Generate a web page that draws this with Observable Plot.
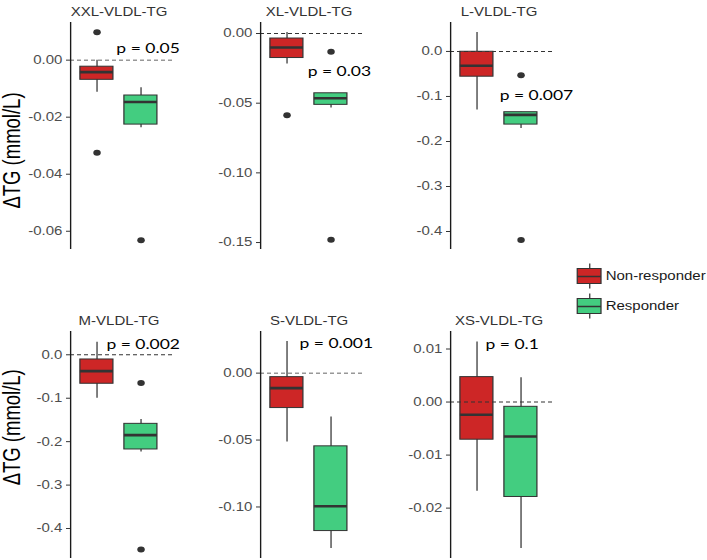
<!DOCTYPE html>
<html><head><meta charset="utf-8">
<script src="https://cdn.jsdelivr.net/npm/d3@7"></script>
<script src="https://cdn.jsdelivr.net/npm/@observablehq/plot@0.6"></script>
<style>
html,body{margin:0;padding:0;background:#fff;}
#chart{position:relative;width:565.6px;height:560px;transform:scaleX(1.25);transform-origin:0 0;font-family:"Liberation Sans",Arial,sans-serif;}
#chart > div{position:absolute;}
#chart svg{background:transparent !important;overflow:visible;max-width:none !important;}
</style></head>
<body><div id="chart"></div>
<script>
const panelTitles = ["XXL-VLDL-TG","XL-VLDL-TG","L-VLDL-TG","M-VLDL-TG","S-VLDL-TG","XS-VLDL-TG"];
const groups = ["Non-responder","Responder"];
const groupColors = ["#CD2626","#43CD80"];
// [lower whisker, Q1, median, Q3, upper whisker]
const nonResponderStats = [
  [-0.0113, -0.0069, -0.0042, -0.0023, 0.0000],
  [-0.0219, -0.0176, -0.0100, -0.0036, 0.0007],
  [-0.130, -0.0561, -0.0317, -0.0007, 0.042],
  [-0.0998, -0.0667, -0.0377, -0.0108, 0.029],
  [-0.0515, -0.0261, -0.0112, -0.0030, 0.0237],
  [-0.0168, -0.0071, -0.0024, 0.0047, 0.0113]
];
const responderStats = [
  [-0.0237, -0.0226, -0.0147, -0.0124, -0.0097],
  [-0.0534, -0.0512, -0.0465, -0.0429, -0.0429],
  [-0.171, -0.1625, -0.141, -0.135, -0.135],
  [-0.224, -0.218, -0.185, -0.159, -0.149],
  [-0.131, -0.118, -0.0995, -0.0547, -0.0328],
  [-0.0276, -0.0179, -0.0065, -0.0009, 0.0046]
];
const nonResponderOutliers = [[0.0098, -0.0325], [-0.0587], [], [], [], []];
const responderOutliers = [[-0.0632], [-0.0131, -0.148], [-0.053, -0.419], [-0.065, -0.448], [], []];
const pLabels = ["p = 0.05","p = 0.03","p = 0.007","p = 0.002","p = 0.001","p = 0.1"];
const pLabelX = [2.16, 2.19, 2.35, 2.05, 2.12, 1.80];
const pLabelY = [0.0041, -0.0274, -0.098, 0.024, 0.0219, 0.0109];
const yLimits = [[-0.0664, 0.0132],[-0.155, 0.0079],[-0.440, 0.0643],[-0.469, 0.0536],[-0.1385, 0.0311],[-0.0295, 0.0133]];
const tickValues = [[0,-0.02,-0.04,-0.06],[0,-0.05,-0.1,-0.15],[0,-0.1,-0.2,-0.3,-0.4],[0,-0.1,-0.2,-0.3,-0.4],[0,-0.05,-0.1],[0.01,0,-0.01,-0.02]];
const tickLabels = [["0.00","-0.02","-0.04","-0.06"],["0.00","-0.05","-0.10","-0.15"],["0.0","-0.1","-0.2","-0.3","-0.4"],["0.0","-0.1","-0.2","-0.3","-0.4"],["0.00","-0.05","-0.10"],["0.01","0.00","-0.01","-0.02"]];
const yTitle = "ΔTG (mmol/L)";

const groupPos = [1, 2];
const boxHalf = 0.375;
const xDomain = [0.4, 2.786];
const chart = document.getElementById("chart");
const panelW = 164, panelH = 253, mL = 56, mR = 24, mT = 22, mB = 4;
const colLeft = [0, 152, 304], rowTop = [0, 309];
const yLabelDy = [14.5, -17.7];
const svgStyle = {background: "transparent", overflow: "visible", fontFamily: "Liberation Sans, Arial, sans-serif"};

function place(node, left, top) {
  const d = document.createElement("div");
  d.style.left = left + "px";
  d.style.top = top + "px";
  d.appendChild(node);
  chart.appendChild(d);
}

panelTitles.forEach((title, i) => {
  const col = i % 3, row = Math.floor(i / 3);
  const boxes = groups.map((g, j) => {
    const s = (j === 0 ? nonResponderStats : responderStats)[i];
    return {group: g, pos: groupPos[j], lo: s[0], q1: s[1], med: s[2], q3: s[3], hi: s[4]};
  });
  const outliers = groups.flatMap((g, j) =>
    (j === 0 ? nonResponderOutliers : responderOutliers)[i].map(v => ({group: g, pos: groupPos[j], value: v})));
  const labelMap = new Map(tickValues[i].map((t, k) => [t, tickLabels[i][k]]));
  const marks = [
    Plot.ruleX(boxes, {x: "pos", y1: "lo", y2: "hi", stroke: "#333", strokeWidth: 1}),
    Plot.rect(boxes, {x1: d => d.pos - boxHalf, x2: d => d.pos + boxHalf, y1: "q1", y2: "q3", fill: "group", stroke: "#333", strokeWidth: 1}),
    Plot.ruleY(boxes, {y: "med", x1: d => d.pos - boxHalf, x2: d => d.pos + boxHalf, stroke: "#333", strokeWidth: 2.6}),
    Plot.dot(outliers, {x: "pos", y: "value", r: 3.0, fill: "#333", stroke: "none"}),
    Plot.ruleY([0], {stroke: "#333", strokeWidth: 0.9, strokeDasharray: "3.2,2.4"}),
    Plot.ruleX([xDomain[0]], {stroke: "#1a1a1a", strokeWidth: 1.1}),
    Plot.axisY({ticks: tickValues[i], tickFormat: d => labelMap.get(d), tickSize: 3.2, tickPadding: 3.4, fontSize: 12, stroke: "#333", fill: "#4d4d4d", label: null}),
    Plot.text([title], {x: () => (groupPos[0] + groupPos[1]) / 2, frameAnchor: "top", dy: -15, fontSize: 12, fill: "#333", text: d => d}),
    Plot.text([pLabels[i]], {x: () => pLabelX[i], y: () => pLabelY[i], text: d => d, fontFamily: "Lato", fontSize: 14, fill: "#000"})
  ];
  if (col === 0) {
    marks.push(Plot.text([yTitle], {frameAnchor: "left", textAnchor: "middle", lineAnchor: "middle", rotate: -90, dx: -46.4, dy: yLabelDy[row], fontSize: 18.5, fill: "#000", text: d => d}));
  }
  const svg = Plot.plot({
    width: panelW, height: panelH,
    marginLeft: mL, marginRight: mR, marginTop: mT, marginBottom: mB,
    x: {domain: xDomain, axis: null},
    y: {domain: yLimits[i]},
    color: {domain: groups, range: groupColors},
    style: svgStyle,
    marks
  });
  place(svg, colLeft[col], rowTop[row]);
});

// legend
const legendRows = groups.map((g, i) => ({group: g, yc: 21 + 30 * i}));
const legend = Plot.plot({
  width: 130, height: 70, margin: 0,
  x: {domain: [0, 130], range: [0, 130], axis: null},
  y: {domain: [0, 70], range: [0, 70], axis: null},
  color: {domain: groups, range: groupColors},
  style: svgStyle,
  marks: [
    Plot.ruleX(legendRows, {x: () => 15.3, y1: d => d.yc - 12.5, y2: d => d.yc + 12.5, stroke: "#333"}),
    Plot.rect(legendRows, {x1: () => 5.8, x2: () => 24.8, y1: d => d.yc - 7.5, y2: d => d.yc + 7.5, fill: "group", stroke: "#333"}),
    Plot.ruleY(legendRows, {y: "yc", x1: () => 5.8, x2: () => 24.8, stroke: "#333", strokeWidth: 1.5}),
    Plot.text(legendRows, {x: () => 28, y: "yc", text: "group", textAnchor: "start", fontSize: 12, fill: "#1a1a1a"})
  ]
});
place(legend, 456, 255);
</script>
</body></html>
